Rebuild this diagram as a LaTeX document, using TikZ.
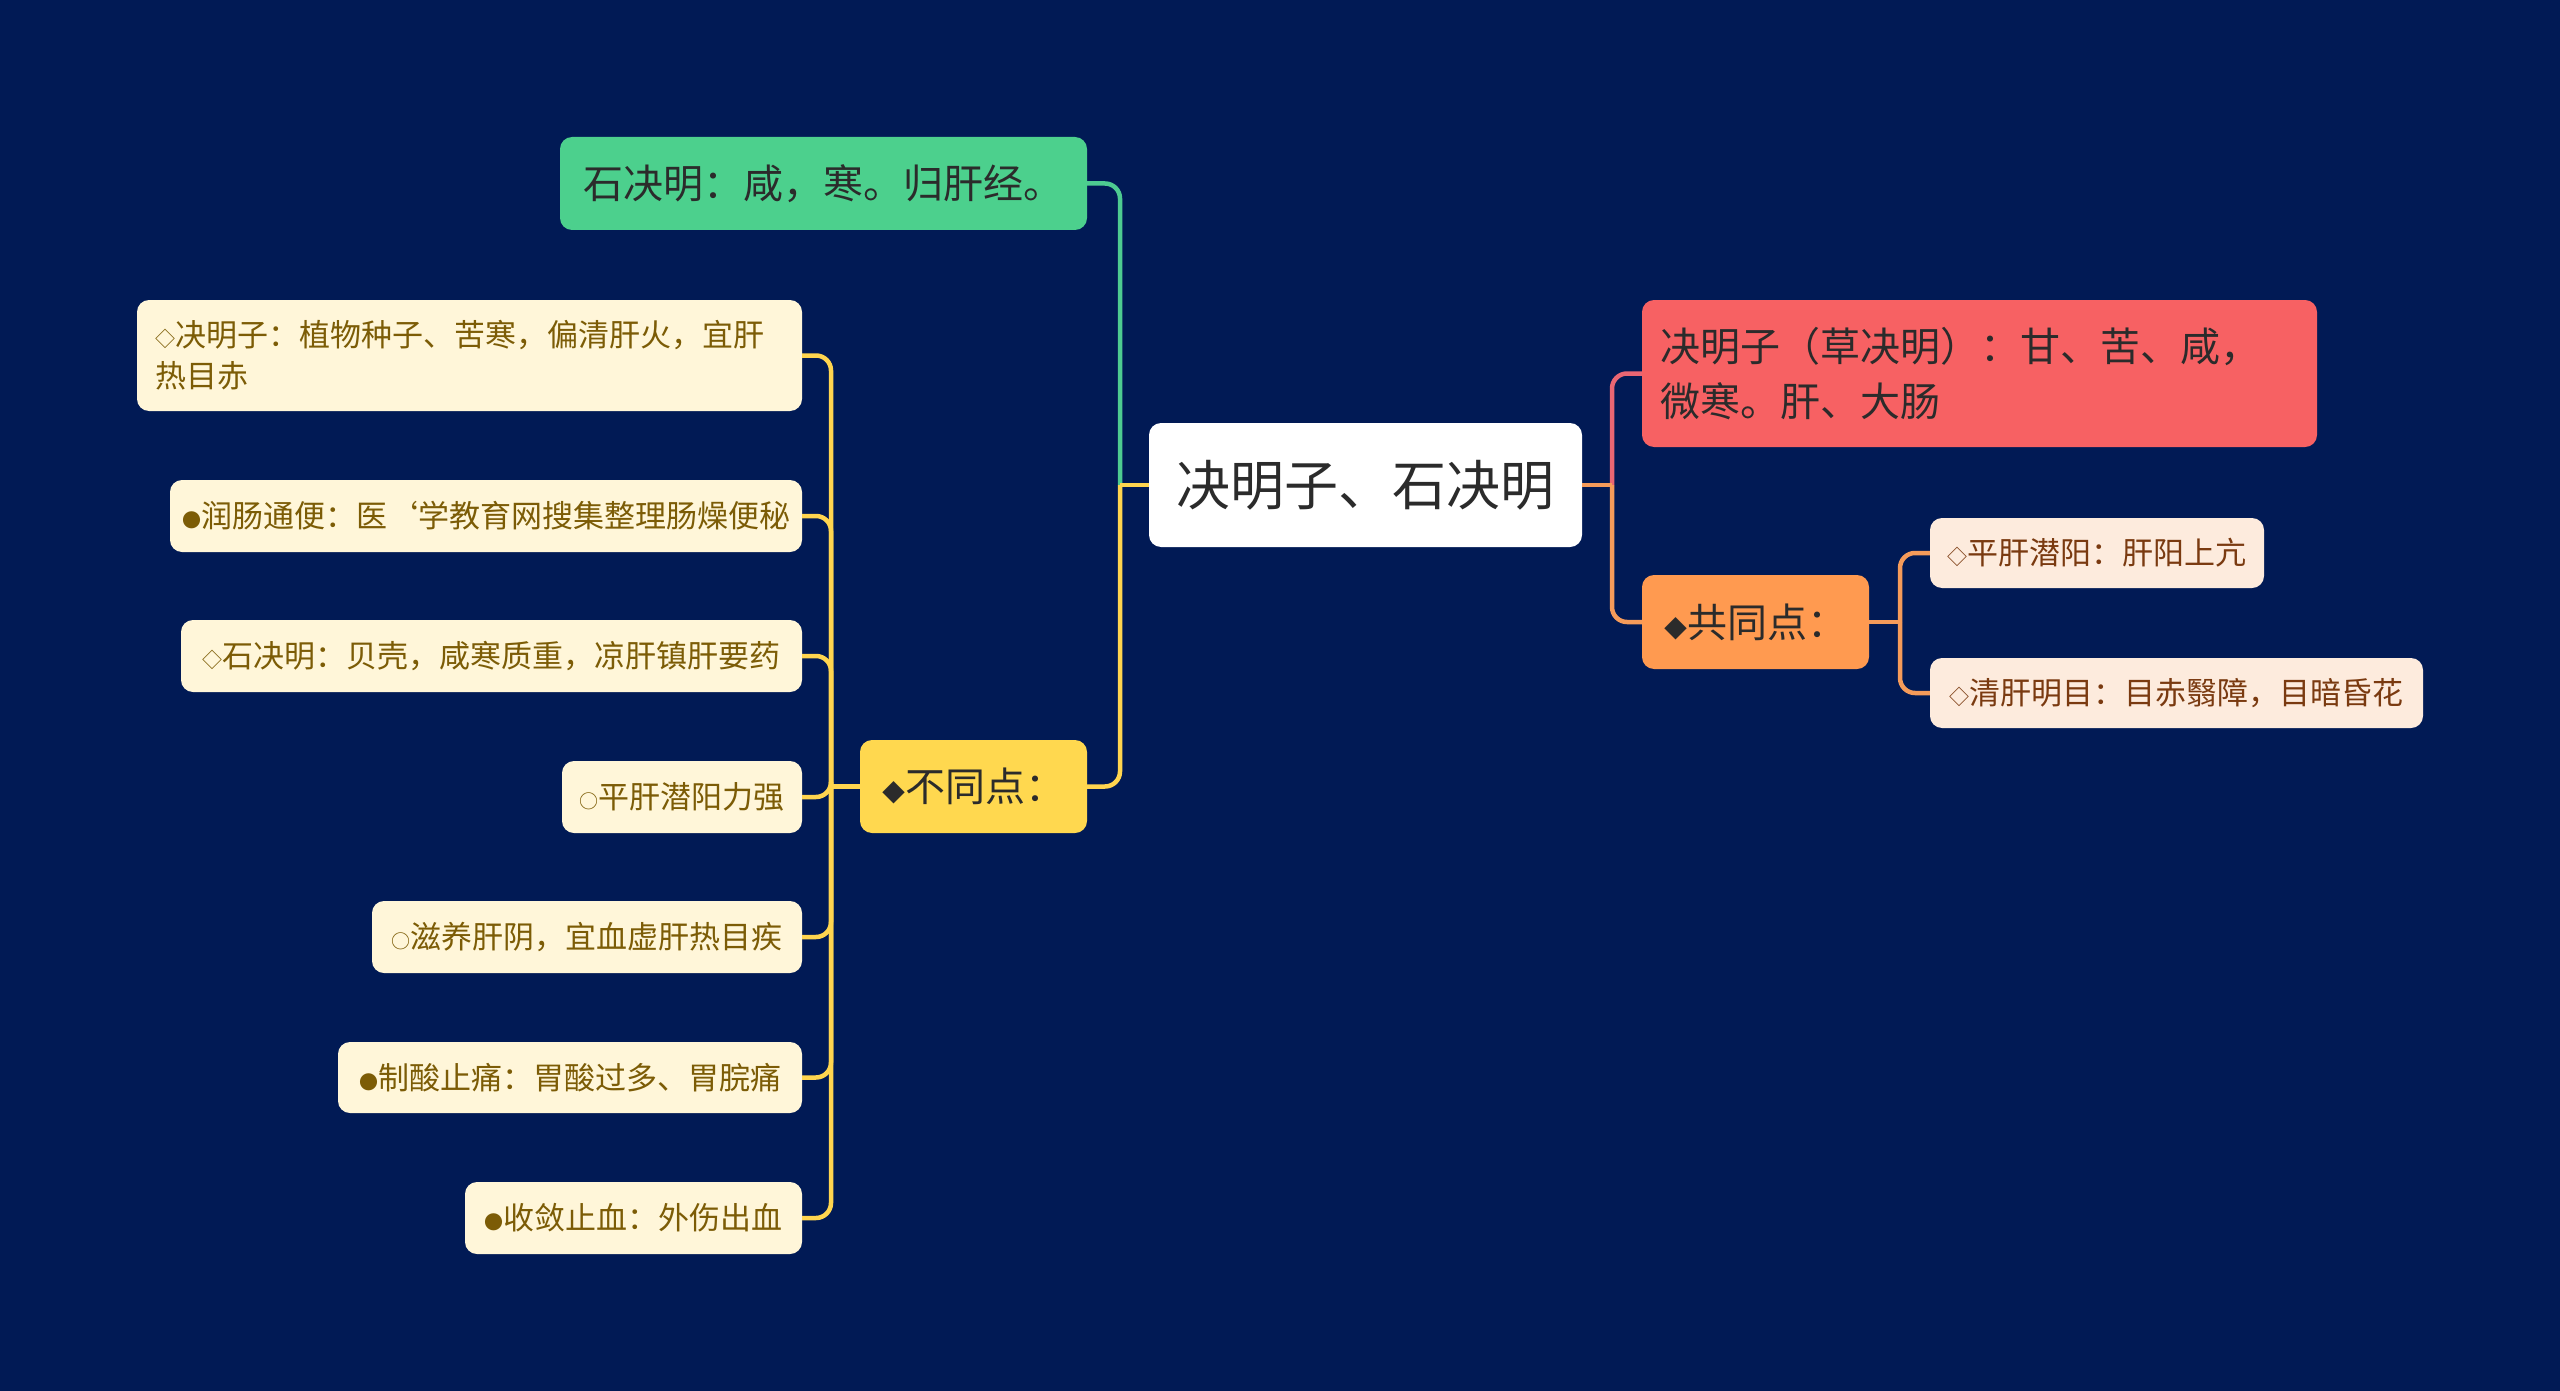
\documentclass[tikz,border=0pt]{standalone}
\usepackage{fontspec}
\setmainfont{Noto Sans CJK SC}
\definecolor{bg}{HTML}{011A55}
\definecolor{gfill}{HTML}{4CD08D}
\definecolor{gline}{HTML}{4ECB91}
\definecolor{yfill}{HTML}{FFD84F}
\definecolor{yline}{HTML}{FFD54F}
\definecolor{rfill}{HTML}{F76163}
\definecolor{rline}{HTML}{E96673}
\definecolor{ofill}{HTML}{FF9A50}
\definecolor{oline}{HTML}{F59B5A}
\definecolor{lfill}{HTML}{FFF6D9}
\definecolor{ltext}{HTML}{7C5C06}
\definecolor{rlfill}{HTML}{FDEBDD}
\definecolor{rltext}{HTML}{7A3A10}
\definecolor{dtext}{HTML}{2B2B2B}
\newcommand{\sdia}{{\fontsize{20}{20}\selectfont ◇}}
\newcommand{\sdot}{{\fontsize{19}{19}\selectfont ●}}
\newcommand{\scir}{{\fontsize{19}{19}\selectfont ○}}
\newcommand{\bdia}{{\fontsize{23}{23}\selectfont ◆}}
\tikzset{
  box/.style={rounded corners=12pt, inner sep=0pt, anchor=center},
  rootbox/.style={box, fill=white, text=dtext, font=\fontsize{54}{60}\selectfont},
  mainbox/.style={box, text=dtext, font=\fontsize{40}{55}\selectfont},
  leafbox/.style={box, fill=lfill, text=ltext, font=\fontsize{31}{41}\selectfont},
  rleafbox/.style={box, fill=rlfill, text=rltext, font=\fontsize{31}{41}\selectfont},
  conn/.style={line width=4.5pt, rounded corners=15pt}
}
\begin{document}
\begin{tikzpicture}[x=1pt,y=-1pt]
\fill[bg] (0,0) rectangle (2560,1391);
\useasboundingbox (0,0) rectangle (2560,1391);

% root
\node[rootbox, minimum width=433pt, minimum height=124pt] (root) at (1365.5,485) {决明子、石决明};

% left main
\node[mainbox, fill=gfill, minimum width=527pt, minimum height=93pt] (green) at (823.5,183.5) {石决明：咸，寒。归肝经。};
\node[mainbox, fill=yfill, minimum width=227pt, minimum height=93pt] (yel) at (973.5,786.5) {\bdia 不同点：};

% left leaves
\node[leafbox, minimum width=665pt, minimum height=111pt, align=left, text width=628pt] (l1) at (469.5,355.5) {\sdia 决明子：植物种子、苦寒，偏清肝火，宜肝\\热目赤};
\node[leafbox, minimum width=632pt, minimum height=72pt] (l2) at (486,516) {\sdot 润肠通便：医\char96 学教育网搜集整理肠燥便秘};
\node[leafbox, minimum width=621pt, minimum height=72pt] (l3) at (491.5,656) {\sdia 石决明：贝壳，咸寒质重，凉肝镇肝要药};
\node[leafbox, minimum width=240pt, minimum height=72pt] (l4) at (682,797) {\scir 平肝潜阳力强};
\node[leafbox, minimum width=430pt, minimum height=72pt] (l5) at (587,937) {\scir 滋养肝阴，宜血虚肝热目疾};
\node[leafbox, minimum width=464pt, minimum height=71pt] (l6) at (570,1077.5) {\sdot 制酸止痛：胃酸过多、胃脘痛};
\node[leafbox, minimum width=337pt, minimum height=72pt] (l7) at (633.5,1218) {\sdot 收敛止血：外伤出血};

% right main
\node[mainbox, fill=rfill, minimum width=675pt, minimum height=147pt, align=left, text width=638pt] (red) at (1979.5,373.5) {决明子（草决明）：甘、苦、咸，\\微寒。肝、大肠};
\node[mainbox, fill=ofill, minimum width=227pt, minimum height=94pt] (ora) at (1755.5,622) {\bdia 共同点：};

% right leaves
\node[rleafbox, minimum width=334pt, minimum height=70pt] (r1) at (2097,553) {\sdia 平肝潜阳：肝阳上亢};
\node[rleafbox, minimum width=493pt, minimum height=70pt] (r2) at (2176.5,693) {\sdia 清肝明目：目赤翳障，目暗昏花};

% junction coordinates
\coordinate (jl) at (1120,485);
\coordinate (jy) at (831,786.5);
\coordinate (jr) at (1612,485);
\coordinate (jo) at (1900,622);

% connectors left
\draw[conn, gline] (jl) |- (green.east);
\draw[conn, yline] (root.west) -- (jl);
\draw[conn, yline] (jl) |- (yel.east);
\draw[conn, yline] (yel.west) -- (jy);
\foreach \n in {l1,l2,l3,l4,l5,l6,l7}{
  \draw[conn, yline] (jy) |- (\n.east);
}

% connectors right
\draw[conn, rline] (jr) |- (red.west);
\draw[conn, oline] (root.east) -- (jr);
\draw[conn, oline] (jr) |- (ora.west);
\draw[conn, oline] (ora.east) -- (jo);
\draw[conn, oline] (jo) |- (r1.west);
\draw[conn, oline] (jo) |- (r2.west);
\end{tikzpicture}
\end{document}
